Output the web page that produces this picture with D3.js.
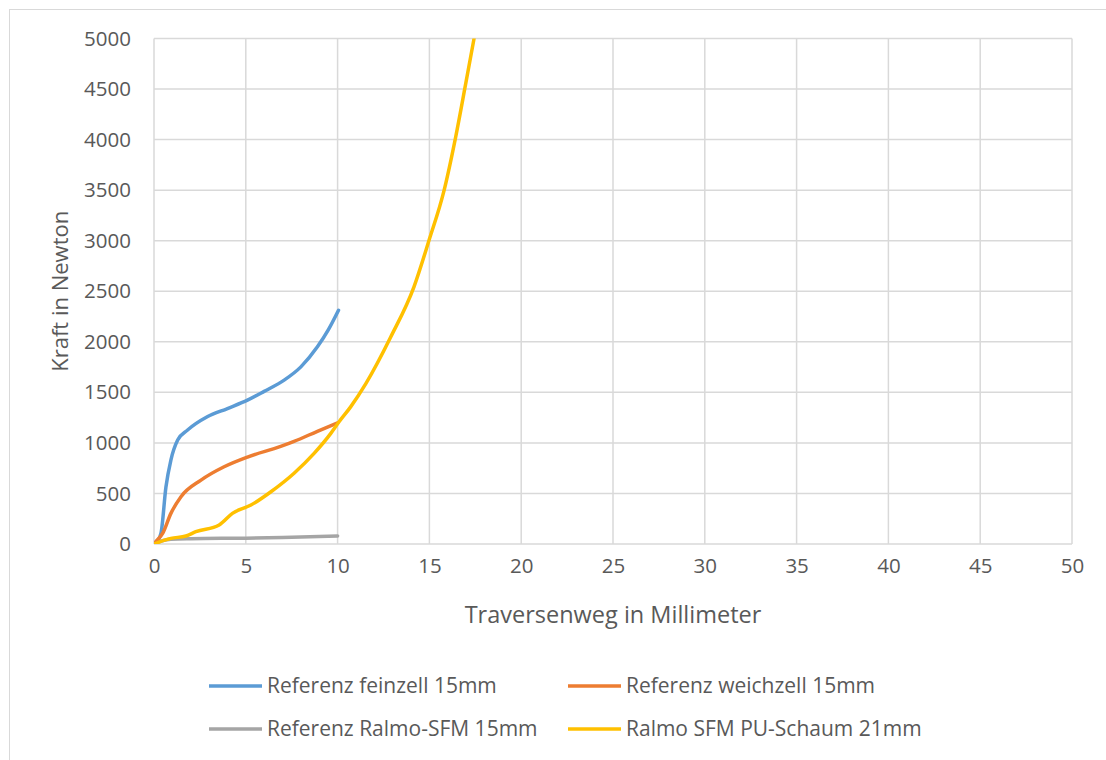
<!DOCTYPE html>
<html><head><meta charset="utf-8">
<script src="https://cdn.jsdelivr.net/npm/d3@7"></script>
<style>body{margin:0;background:#fff}svg{display:block}</style>
</head><body><svg id="c" width="1106" height="760"></svg>
<script>
const xTicks = [0,5,10,15,20,25,30,35,40,45,50];
const yTicks = [0,500,1000,1500,2000,2500,3000,3500,4000,4500,5000];
const seriesNames = ["Referenz feinzell 15mm","Referenz weichzell 15mm","Referenz Ralmo-SFM 15mm","Ralmo SFM PU-Schaum 21mm"];
const feinzellX = [0,0.1,0.38,0.65,0.92,1.29,1.83,2.9,4,5.09,6,7.09,8,8.9,9.5,10.05];
const feinzellY = [0,10,108,563,830,1028,1127,1258,1340,1423,1510,1621,1752,1950,2120,2312];
const weichzellX = [0,0.1,0.47,0.92,1.47,2.56,3.82,5.09,6.9,7.63,8.9,10.0];
const weichzellY = [0,23,105,303,468,632,764,860,965,1015,1115,1199];
const ralmoX = [0,0.5,0.92,2,5,7,10];
const ralmoY = [0,35,46,52,58,65,80];
const puX = [0,0.92,1.74,2.28,3.55,4.27,5.28,6.37,7.63,8.72,9.63,10.08,10.7,11.53,12.9,14.16,14.98,15.8,16.43,16.97,17.43];
const puY = [0,56,79,122,188,303,385,517,700,896,1094,1209,1354,1584,2050,2544,3004,3498,4025,4546,4998];
const colors = ["#5B9BD5","#ED7D31","#A5A5A5","#FFC000"];

const svg = d3.select("#c");
const font = "'Open Sans', sans-serif";
svg.append("rect").attr("x",9.5).attr("y",9.5).attr("width",1110).attr("height",770)
  .attr("fill","#fff").attr("stroke","#D9D9D9");

const x = d3.scaleLinear().domain([0,50]).range([154,1072]);
const y = d3.scaleLinear().domain([0,5000]).range([544,38.5]);

const g = svg.append("g");
g.selectAll(".vg").data(xTicks).join("line")
  .attr("x1",d=>x(d)).attr("x2",d=>x(d)).attr("y1",y(0)).attr("y2",y(5000))
  .attr("stroke","#D9D9D9").attr("stroke-width",1.5);
g.selectAll(".hg").data(yTicks).join("line")
  .attr("y1",d=>y(d)).attr("y2",d=>y(d)).attr("x1",x(0)).attr("x2",x(50))
  .attr("stroke","#D9D9D9").attr("stroke-width",1.5);

const xAxis = svg.append("g").attr("transform",`translate(0,${y(0)})`)
  .call(d3.axisBottom(x).tickValues(xTicks).tickFormat(d3.format("d")).tickSize(0).tickPadding(14));
const yAxis = svg.append("g").attr("transform",`translate(${x(0)},0)`)
  .call(d3.axisLeft(y).tickValues(yTicks).tickFormat(d3.format("d")).tickSize(0).tickPadding(23));
[xAxis,yAxis].forEach(a=>{
  a.select(".domain").remove();
  a.selectAll("text").attr("font-family",font).attr("font-size",20.5).attr("fill","#595959");
});

const defs = svg.append("defs");
defs.append("clipPath").attr("id","clip").append("rect")
  .attr("x",x(0)).attr("y",y(5000)).attr("width",x(50)-x(0)).attr("height",y(0)-y(5000));

const series = [
  feinzellX.map((v,i)=>[v,feinzellY[i]]),
  weichzellX.map((v,i)=>[v,weichzellY[i]]),
  ralmoX.map((v,i)=>[v,ralmoY[i]]),
  puX.map((v,i)=>[v,puY[i]])
];
const line = d3.line().x(d=>x(d[0])).y(d=>y(d[1])).curve(d3.curveMonotoneX);
const order = [2,0,1,3];
svg.append("g").attr("clip-path","url(#clip)").selectAll("path").data(order).join("path")
  .attr("d",i=>line(series[i])).attr("fill","none").attr("stroke",i=>colors[i])
  .attr("stroke-width",3.5).attr("stroke-linecap","round").attr("stroke-linejoin","round");

svg.append("text").attr("transform",`translate(68,${(y(0)+y(5000))/2}) rotate(-90)`)
  .attr("text-anchor","middle").attr("font-family",font).attr("font-size",22).attr("fill","#595959")
  .text("Kraft in Newton");
svg.append("text").attr("x",(x(0)+x(50))/2).attr("y",623)
  .attr("text-anchor","middle").attr("font-family",font).attr("font-size",23.5).attr("fill","#595959")
  .text("Traversenweg in Millimeter");

const legPos = [[209,686],[568,686],[209,729],[568,729]];
const leg = svg.append("g").selectAll("g").data(seriesNames).join("g")
  .attr("transform",(d,i)=>`translate(${legPos[i][0]},${legPos[i][1]})`);
leg.append("line").attr("x1",0).attr("x2",53).attr("stroke",(d,i)=>colors[i]).attr("stroke-width",3.5);
leg.append("text").attr("x",58).attr("dy","0.35em").attr("font-family",font).attr("font-size",21)
  .attr("fill","#595959").text(d=>d);
</script></body></html>
